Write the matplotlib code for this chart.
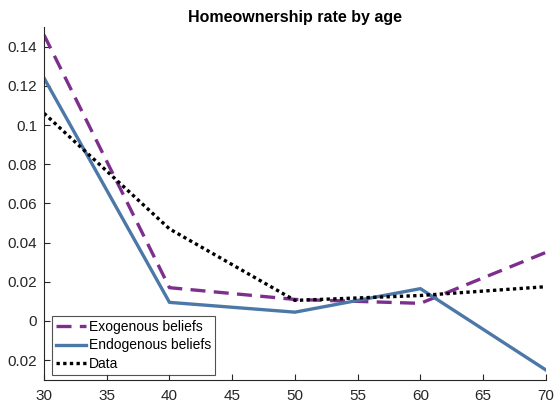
import matplotlib
matplotlib.use("Agg")
import matplotlib.pyplot as plt

plt.rcParams['font.family'] = ['Liberation Sans', 'DejaVu Sans']

ages = [30, 40, 50, 60, 70]
exogenous = [0.146, 0.017, 0.011, 0.009, 0.035]
endogenous = [0.124, 0.0095, 0.0045, 0.0165, -0.025]
data = [0.106, 0.047, 0.0105, 0.013, 0.0175]

xticks = [30, 35, 40, 45, 50, 55, 60, 65, 70]
yticks = [-0.02, 0, 0.02, 0.04, 0.06, 0.08, 0.1, 0.12, 0.14]
ytick_labels = ['0.02', '0', '0.02', '0.04', '0.06', '0.08', '0.1', '0.12', '0.14']

fig = plt.figure(figsize=(5.57, 4.04), dpi=100)
ax = fig.add_axes([0.079, 0.06, 0.901, 0.873])

ax.plot(ages, exogenous, color='#7e2f8e', lw=2.4, ls=(0, (4.5, 2.5)), label='Exogenous beliefs')
ax.plot(ages, endogenous, color='#4c78a8', lw=2.4, label='Endogenous beliefs')
ax.plot(ages, data, color='black', lw=2.4, ls=(0, (1, 1)), label='Data')

ax.set_xlim(30, 70)
ax.set_ylim(-0.03, 0.15)
ax.set_xticks(xticks)
ax.set_yticks(yticks)
ax.set_yticklabels(ytick_labels)
ax.tick_params(direction='in', labelsize=11, colors='#262626', length=4.5, width=0.8)
ax.tick_params(axis='x', pad=7)
ax.tick_params(axis='y', pad=5)
for s in ['top', 'right']:
    ax.spines[s].set_visible(False)
for s in ['left', 'bottom']:
    ax.spines[s].set_color('#262626')
    ax.spines[s].set_linewidth(0.8)

ax.set_title('Homeownership rate by age', fontsize=11.5, fontweight='bold', pad=4)

leg = ax.legend(loc='lower left', bbox_to_anchor=(0.016, 0.014), borderaxespad=0,
                fontsize=10, frameon=True, fancybox=False,
                borderpad=0.25, labelspacing=0.35, handlelength=2.2, handletextpad=0.2)
leg.get_frame().set_edgecolor('#262626')
leg.get_frame().set_linewidth(0.8)

fig.savefig('out.png', dpi=100)
